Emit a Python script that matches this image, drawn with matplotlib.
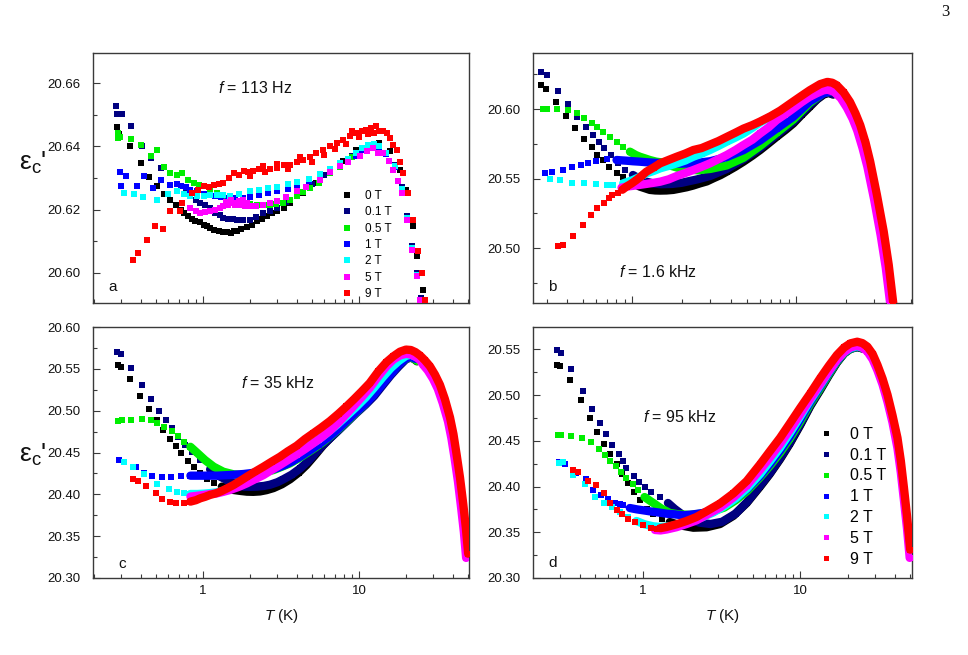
import matplotlib
matplotlib.use("Agg")
import matplotlib.pyplot as plt
import numpy as np
from matplotlib.ticker import LogLocator, MultipleLocator, FormatStrFormatter, NullFormatter, FixedLocator
from matplotlib.lines import Line2D

plt.rcParams['font.family'] = ['Liberation Sans', 'DejaVu Sans']
plt.rcParams['mathtext.fontset'] = 'custom'
plt.rcParams['mathtext.rm'] = 'Liberation Sans'
plt.rcParams['mathtext.it'] = 'Liberation Sans:italic'
plt.rcParams['mathtext.bf'] = 'Liberation Sans:bold'

# ---------------- data ----------------
fields = ['0 T', '0.1 T', '0.5 T', '1 T', '2 T', '5 T', '9 T']
colors = ['#000000', '#000080', '#00ee00', '#0000ff', '#00ffff', '#ff00ff', '#ff0000']

# panel a : f = 113 Hz   (T [K], eps_c')
a0 = [(0.28,20.6461),(0.29,20.6438),(0.34,20.6400),(0.40,20.6347),(0.45,20.6302),(0.51,20.6276),(0.56,20.6250),(0.61,20.6232),(0.67,20.6216),(0.72,20.6198),(0.76,20.6190),(0.80,20.6181),(0.85,20.6172),(0.89,20.6163),(0.95,20.6160),(1.01,20.6153),(1.06,20.6149),(1.11,20.6142),(1.18,20.6137),(1.26,20.6132),(1.34,20.6130),(1.42,20.6128),(1.50,20.6126),(1.58,20.6131),(1.65,20.6132),(1.75,20.6138),(1.91,20.6145),(2.05,20.6152),(2.21,20.6163),(2.40,20.6170),(2.56,20.6179),(2.75,20.6188),(2.97,20.6195),(3.3,20.6205),(3.61,20.6221),(4.39,20.6253),(5.33,20.6284),(6.5,20.6321),(7.9,20.6353),(9.6,20.6390),(11.7,20.6405),(13.5,20.6410),(15.7,20.6385),(18.2,20.6326),(20.0,20.6263),(22.2,20.6147),(23.7,20.6053),(25.6,20.5947)]
a1 = [(0.276,20.6528),(0.282,20.6503),(0.301,20.6503),(0.344,20.6463),(0.408,20.6400),(0.461,20.6363),(0.534,20.6332),(0.618,20.6279),(0.717,20.6276),(0.78,20.6258),(0.83,20.6242),(0.90,20.6230),(0.96,20.6221),(1.03,20.6214),(1.11,20.6205),(1.20,20.6190),(1.28,20.6182),(1.35,20.6174),(1.45,20.6170),(1.55,20.6172),(1.65,20.6168),(1.80,20.6166),(2.01,20.6168),(2.2,20.6178),(2.44,20.6189),(2.7,20.6196),(2.97,20.6205),(3.4,20.6225),(4.0,20.6250),(5.0,20.6280),(6.0,20.6310),(7.5,20.6340),(9.0,20.6370),(10.5,20.6395),(12.0,20.6405),(13.5,20.6400),(15.0,20.6380),(17.0,20.6340),(18.8,20.6270),(20.3,20.6180),(21.8,20.6085),(23.4,20.6000),(24.8,20.5920)]
a2 = [(0.283,20.6426),(0.287,20.6442),(0.295,20.6430),(0.344,20.6423),(0.398,20.6405),(0.461,20.6368),(0.508,20.6387),(0.566,20.6335),(0.618,20.6316),(0.68,20.6311),(0.73,20.6316),(0.80,20.6295),(0.87,20.6284),(0.94,20.6278),(1.01,20.6274),(1.1,20.6262),(1.23,20.6253),(1.35,20.6240),(1.49,20.6232),(1.65,20.6226),(1.82,20.6221),(2.0,20.6218),(2.21,20.6216),(2.45,20.6214),(2.69,20.6216),(2.95,20.6218),(3.27,20.6221),(3.6,20.6230),(3.98,20.6242),(4.4,20.6255),(4.84,20.6268),(5.5,20.6285),(6.5,20.6315),(7.5,20.6335),(9.0,20.6365),(10.5,20.6390),(12.0,20.6400),(13.5,20.6398),(15.0,20.6375),(17.0,20.6335),(18.8,20.6265),(20.3,20.6175),(21.8,20.6080),(23.4,20.5995),(24.8,20.5915)]
a3 = [(0.294,20.6319),(0.297,20.6276),(0.322,20.6305),(0.375,20.6274),(0.42,20.6305),(0.48,20.6268),(0.54,20.6295),(0.618,20.6279),(0.68,20.6280),(0.717,20.6274),(0.78,20.6270),(0.83,20.6263),(0.92,20.6258),(1.01,20.6251),(1.1,20.6247),(1.2,20.6242),(1.3,20.6240),(1.45,20.6238),(1.6,20.6236),(1.8,20.6238),(2.0,20.6240),(2.3,20.6245),(2.6,20.6252),(3.0,20.6258),(3.5,20.6265),(4.0,20.6275),(4.8,20.6290),(5.6,20.6305),(6.5,20.6325),(7.5,20.6345),(8.5,20.6358),(9.6,20.6370),(10.5,20.6390),(11.5,20.6400),(12.5,20.6405),(13.5,20.6398),(15.0,20.6375),(17.0,20.6335),(18.8,20.6262),(20.3,20.6172),(21.8,20.6078),(23.4,20.5993),(24.8,20.5913)]
a4 = [(0.31,20.6253),(0.36,20.6251),(0.414,20.6239),(0.508,20.6232),(0.60,20.6251),(0.68,20.6258),(0.75,20.6250),(0.83,20.6242),(0.92,20.6243),(1.01,20.6242),(1.1,20.6245),(1.23,20.6247),(1.35,20.6245),(1.49,20.6242),(1.7,20.6250),(2.01,20.6258),(2.3,20.6262),(2.6,20.6268),(3.0,20.6272),(3.5,20.6280),(4.0,20.6288),(4.8,20.6298),(5.6,20.6312),(6.5,20.6330),(7.5,20.6348),(8.5,20.6360),(9.6,20.6378),(10.5,20.6395),(11.5,20.6405),(12.5,20.6408),(13.5,20.6400),(15.0,20.6378),(17.0,20.6337),(18.8,20.6264),(20.3,20.6174),(21.8,20.6080),(23.4,20.5995),(24.8,20.5915)]
a5 = [(0.83,20.6205),(0.9,20.6195),(0.96,20.6189),(1.03,20.6192),(1.11,20.6195),(1.2,20.6200),(1.28,20.6205),(1.35,20.6210),(1.40,20.6225),(1.45,20.6215),(1.50,20.6230),(1.55,20.6220),(1.60,20.6214),(1.65,20.6221),(1.70,20.6228),(1.75,20.6215),(1.80,20.6232),(1.85,20.6212),(1.92,20.6222),(2.01,20.6210),(2.2,20.6213),(2.44,20.6216),(2.7,20.6220),(2.97,20.6226),(3.4,20.6240),(3.98,20.6258),(4.6,20.6272),(5.62,20.6295),(6.5,20.6318),(7.56,20.6337),(8.5,20.6352),(10.1,20.6368),(11.2,20.6385),(12.35,20.6395),(13.3,20.6380),(14.3,20.6379),(15.5,20.6355),(16.6,20.6326),(17.7,20.6290),(18.8,20.6253),(20.2,20.6168),(21.8,20.6073),(23.4,20.5989),(24.6,20.5916)]
a6 = [(0.357,20.6040),(0.38,20.6063),(0.438,20.6105),(0.49,20.6147),(0.556,20.6140),(0.613,20.6197),(0.711,20.6197),(0.73,20.6221),(0.85,20.6253),(0.93,20.6262),(1.01,20.6274),(1.09,20.6270),(1.17,20.6279),(1.26,20.6282),(1.35,20.6284),(1.46,20.6300),(1.57,20.6316),(1.7,20.6310),(1.82,20.6321),(1.95,20.6318),(2.0,20.6305),(2.1,20.6321),(2.27,20.6328),(2.44,20.6337),(2.5,20.6320),(2.7,20.6330),(2.97,20.6332),(3.0,20.6345),(3.3,20.6340),(3.5,20.6328),(3.61,20.6342),(4.0,20.6350),(4.2,20.6365),(4.39,20.6358),(4.85,20.6365),(5.0,20.6352),(5.33,20.6379),(5.9,20.6388),(6.0,20.6372),(6.5,20.6400),(7.0,20.6392),(7.2,20.6410),(7.9,20.6421),(8.2,20.6408),(8.7,20.6432),(9.0,20.6447),(9.6,20.6442),(10.0,20.6430),(10.4,20.6448),(11.1,20.6453),(11.5,20.6440),(12.0,20.6458),(12.5,20.6442),(12.9,20.6463),(13.5,20.6450),(14.2,20.6447),(15.1,20.6442),(15.7,20.6426),(16.5,20.6405),(17.5,20.6389),(18.3,20.6350),(19.2,20.6316),(20.7,20.6253),(22.3,20.6168),(24.0,20.6068),(25.3,20.6000),(26.5,20.5916)]

# panel b : f = 1.6 kHz
b0 = [(0.279,20.6172),(0.297,20.6148),(0.341,20.6053),(0.397,20.5950),(0.450,20.5861),(0.509,20.5785),(0.565,20.5725),(0.611,20.5670),(0.665,20.5634),(0.720,20.5586),(0.802,20.5538),(0.881,20.5510),(0.968,20.5478),(1.04,20.5460),(1.11,20.5443),(1.20,20.5430),(1.28,20.5419),(1.38,20.5415),(1.48,20.5414),(1.62,20.5415),(1.78,20.5419),(1.95,20.5428),(2.15,20.5438),(2.35,20.5450),(2.59,20.5466),(2.85,20.5480),(3.12,20.5502),(3.45,20.5525),(3.77,20.5550),(4.25,20.5585),(4.77,20.5622),(5.4,20.5665),(6.03,20.5706),(6.8,20.5755),(7.6,20.5801),(8.6,20.5850),(9.6,20.5897),(10.8,20.5960),(12.1,20.6017),(13.4,20.6070),(14.7,20.6105),(15.8,20.6117),(16.8,20.6105)]
b1 = [(0.279,20.6268),(0.302,20.6244),(0.350,20.6132),(0.406,20.6036),(0.463,20.5945),(0.521,20.5868),(0.578,20.5813),(0.629,20.5766),(0.675,20.5718),(0.737,20.5670),(0.821,20.5610),(0.902,20.5562),(1.01,20.5526),(1.10,20.5500),(1.20,20.5480),(1.35,20.5465),(1.50,20.5460),(1.75,20.5462),(2.0,20.5470),(2.5,20.5495),(3.0,20.5520),(3.77,20.5570),(4.77,20.5640),(6.03,20.5720),(7.6,20.5815),(9.6,20.5910),(12.1,20.6030),(14.7,20.6112),(15.8,20.6118),(16.8,20.6108)]
b2 = [(0.286,20.5998),(0.302,20.5998),(0.348,20.6002),(0.406,20.5993),(0.461,20.5974),(0.509,20.5933),(0.565,20.5902),(0.611,20.5873),(0.665,20.5837),(0.730,20.5801),(0.802,20.5766),(0.881,20.5730),(0.968,20.5694),(1.05,20.5670),(1.11,20.5658),(1.20,20.5645),(1.28,20.5634),(1.40,20.5622),(1.55,20.5615),(1.75,20.5590),(2.0,20.5570),(2.5,20.5560),(3.0,20.5570),(3.77,20.5595),(4.77,20.5650),(6.03,20.5735),(7.6,20.5830),(9.6,20.5925),(12.1,20.6045),(14.7,20.6118),(16.0,20.6125)]
b3 = [(0.295,20.5543),(0.326,20.5550),(0.379,20.5562),(0.430,20.5581),(0.484,20.5598),(0.539,20.5615),(0.605,20.5629),(0.697,20.5639),(0.802,20.5634),(0.923,20.5629),(1.01,20.5625),(1.11,20.5622),(1.22,20.5618),(1.34,20.5615),(1.48,20.5612),(1.62,20.5610),(1.8,20.5608),(2.0,20.5608),(2.36,20.5610),(2.98,20.5625),(3.77,20.5655),(4.77,20.5705),(6.03,20.5775),(7.6,20.5860),(9.6,20.5945),(12.1,20.6055),(14.7,20.6115),(16.0,20.6125)]
b4 = [(0.314,20.5495),(0.362,20.5490),(0.426,20.5471),(0.507,20.5471),(0.605,20.5462),(0.697,20.5455),(0.765,20.5455),(0.881,20.5466),(1.01,20.5490),(1.10,20.5510),(1.22,20.5538),(1.35,20.5555),(1.48,20.5574),(1.65,20.5590),(1.87,20.5610),(2.1,20.5630),(2.36,20.5658),(2.65,20.5680),(2.98,20.5706),(3.35,20.5735),(3.77,20.5766),(4.25,20.5795),(4.77,20.5825),(5.4,20.5865),(6.03,20.5905),(7.6,20.5970),(9.6,20.6035),(12.1,20.6110),(14.7,20.6155),(16.0,20.6160),(17.0,20.6145)]
b5 = [(0.86,20.5435),(0.93,20.5443),(1.01,20.5448),(1.11,20.5455),(1.22,20.5462),(1.35,20.5470),(1.48,20.5478),(1.67,20.5495),(1.87,20.5519),(2.1,20.5540),(2.36,20.5562),(2.65,20.5585),(2.98,20.5610),(3.35,20.5640),(3.77,20.5670),(4.25,20.5705),(4.77,20.5742),(5.4,20.5780),(6.03,20.5825),(6.8,20.5870),(7.6,20.5921),(8.5,20.5960),(9.6,20.6005),(10.8,20.6050),(12.1,20.6089),(13.4,20.6115),(14.7,20.6136),(15.6,20.6140),(17.0,20.6125),(18.7,20.6080),(20.4,20.6010),(22.1,20.5930),(23.6,20.5845),(25.4,20.5720),(27.2,20.5585),(29.9,20.5350),(32.8,20.5090),(35.2,20.4860),(37.4,20.4610),(38.4,20.4500)]
b6 = [(0.353,20.5012),(0.379,20.5024),(0.436,20.5084),(0.498,20.5163),(0.557,20.5239),(0.611,20.5287),(0.671,20.5328),(0.724,20.5359),(0.748,20.5383),(0.821,20.5395),(0.87,20.5420),(0.923,20.5443),(0.99,20.5465),(1.06,20.5490),(1.14,20.5520),(1.22,20.5550),(1.35,20.5580),(1.48,20.5610),(1.67,20.5635),(1.87,20.5658),(2.1,20.5680),(2.36,20.5706),(2.65,20.5720),(2.98,20.5745),(3.35,20.5770),(3.77,20.5800),(4.25,20.5830),(4.77,20.5860),(5.4,20.5885),(6.0,20.5910),(7.0,20.5950),(8.0,20.5990),(9.2,20.6040),(10.6,20.6090),(12.1,20.6136),(14.0,20.6180),(15.5,20.6196),(16.6,20.6190),(17.7,20.6172),(19.5,20.6120),(21.3,20.6052),(23.0,20.5970),(24.6,20.5885),(26.5,20.5760),(28.3,20.5622),(31.1,20.5383),(34.2,20.5120),(36.7,20.4880),(39.0,20.4617),(40.0,20.4500)]

# panel c : f = 35 kHz
c0 = [(0.283,20.554),(0.296,20.552),(0.339,20.538),(0.394,20.518),(0.45,20.5017),(0.508,20.4886),(0.556,20.4767),(0.613,20.4667),(0.666,20.4576),(0.717,20.4497),(0.798,20.4397),(0.872,20.433),(0.961,20.425),(1.06,20.4183),(1.17,20.4131),(1.32,20.4092),(1.45,20.407),(1.57,20.4052),(1.75,20.404),(1.91,20.4032),(2.1,20.403),(2.32,20.4035),(2.55,20.405),(2.83,20.4075),(3.2,20.412),(3.61,20.418),(4.1,20.426),(4.6,20.435),(5.2,20.4465),(5.88,20.4585),(6.6,20.468),(7.52,20.4785),(8.5,20.4885),(9.6,20.4985),(10.8,20.5085),(12.3,20.520),(14.0,20.533),(15.7,20.544),(17.5,20.553),(19.1,20.5595),(20.5,20.5635),(22.0,20.5635),(23.5,20.559)]
c1 = [(0.279,20.570),(0.300,20.568),(0.347,20.551),(0.408,20.5303),(0.466,20.5144),(0.521,20.4997),(0.575,20.4886),(0.628,20.4787),(0.689,20.4687),(0.771,20.4588),(0.850,20.4509),(0.961,20.4409),(1.11,20.4298),(1.29,20.4211),(1.49,20.4151),(1.65,20.412),(1.82,20.4092),(2.0,20.409),(2.21,20.4092),(2.45,20.41),(2.69,20.4115),(3.0,20.4145),(3.27,20.418),(3.7,20.4235),(4.2,20.431),(4.8,20.441),(5.5,20.4535),(6.3,20.4645),(7.2,20.4745),(8.3,20.4855),(9.6,20.497),(11.0,20.507),(12.5,20.5175),(14.2,20.5305),(16.0,20.5425),(18.0,20.553),(20.0,20.5615),(21.5,20.5635),(23.0,20.561)]
c2 = [(0.283,20.4878),(0.304,20.4886),(0.344,20.4894),(0.404,20.4906),(0.461,20.4894),(0.508,20.4858),(0.566,20.4806),(0.634,20.4759),(0.689,20.4695),(0.752,20.4628),(0.83,20.4568),(0.915,20.4497),(1.03,20.4409),(1.17,20.433),(1.35,20.427),(1.57,20.4239),(1.75,20.4232),(1.91,20.4231),(2.1,20.424),(2.32,20.4251),(2.55,20.427),(2.83,20.429),(3.2,20.433),(3.61,20.437),(4.1,20.443),(4.6,20.4489),(5.2,20.4555),(5.88,20.4625),(6.6,20.470),(7.52,20.479),(8.5,20.4885),(9.6,20.498),(10.8,20.507),(12.3,20.519),(14.0,20.532),(15.7,20.543),(17.5,20.553),(19.1,20.5595),(20.5,20.5635),(22.0,20.5635),(23.5,20.5595)]
c3 = [(0.29,20.4409),(0.311,20.4389),(0.37,20.433),(0.418,20.425),(0.472,20.4223),(0.542,20.4211),(0.619,20.4211),(0.717,20.4223),(0.83,20.4223),(0.92,20.4223),(1.01,20.4223),(1.12,20.4223),(1.23,20.4223),(1.35,20.4227),(1.49,20.4231),(1.65,20.4237),(1.82,20.4243),(2.0,20.4252),(2.21,20.4263),(2.45,20.4275),(2.69,20.429),(3.0,20.4315),(3.3,20.4345),(3.7,20.439),(4.2,20.445),(4.8,20.452),(5.5,20.4595),(6.3,20.4675),(7.2,20.4765),(8.3,20.4875),(9.6,20.4985),(11.0,20.5085),(12.5,20.5195),(14.2,20.5325),(16.0,20.544),(18.0,20.555),(20.0,20.5625),(21.5,20.5645),(23.0,20.562)]
c4 = [(0.311,20.4389),(0.356,20.433),(0.418,20.4239),(0.508,20.4123),(0.604,20.406),(0.676,20.4032),(0.752,20.4012),(0.83,20.4004),(0.92,20.4004),(1.01,20.4008),(1.11,20.4015),(1.23,20.4025),(1.35,20.4040),(1.49,20.4072),(1.65,20.411),(1.82,20.4155),(2.0,20.42),(2.21,20.4245),(2.45,20.429),(2.69,20.4335),(3.0,20.4385),(3.3,20.443),(3.7,20.448),(4.2,20.452),(4.8,20.4585),(5.5,20.4655),(6.3,20.474),(7.2,20.483),(8.3,20.4935),(9.6,20.5045),(11.0,20.5155),(12.5,20.5275),(14.2,20.5400),(16.0,20.551),(18.0,20.5595),(20.0,20.5655),(21.5,20.567),(23.0,20.5645)]
c5 = [(0.83,20.3973),(0.92,20.3983),(1.01,20.3993),(1.11,20.4003),(1.23,20.4012),(1.35,20.403),(1.49,20.4052),(1.7,20.409),(1.91,20.4131),(2.15,20.418),(2.44,20.423),(2.75,20.429),(3.11,20.435),(3.5,20.441),(3.98,20.4475),(4.5,20.454),(5.09,20.461),(5.7,20.4675),(6.5,20.476),(7.4,20.486),(8.3,20.496),(9.2,20.505),(10.4,20.516),(11.7,20.527),(13.3,20.541),(15.0,20.553),(16.6,20.561),(18.3,20.566),(20.0,20.568),(21.5,20.567),(23.0,20.5645),(24.6,20.5605),(25.7,20.555),(27.6,20.548),(29.8,20.538),(32.0,20.526),(34.4,20.509),(37.2,20.487),(39.1,20.467),(41.0,20.443),(43.1,20.415),(45.2,20.383),(47.0,20.355),(48.6,20.324)]
c6 = [(0.355,20.4179),(0.38,20.4163),(0.428,20.4104),(0.496,20.4012),(0.548,20.3941),(0.61,20.3913),(0.666,20.3901),(0.752,20.3901),(0.83,20.3913),(0.9,20.393),(0.961,20.3953),(1.03,20.397),(1.11,20.3993),(1.2,20.401),(1.29,20.4032),(1.42,20.407),(1.57,20.4112),(1.73,20.416),(1.91,20.4211),(2.15,20.427),(2.44,20.433),(2.75,20.439),(3.11,20.4449),(3.5,20.4515),(3.98,20.458),(4.5,20.466),(5.09,20.473),(5.7,20.4795),(6.5,20.4875),(7.4,20.4965),(8.3,20.505),(9.2,20.513),(10.4,20.523),(11.7,20.533),(13.3,20.547),(15.0,20.558),(16.6,20.565),(18.3,20.5705),(20.0,20.573),(21.5,20.5725),(23.0,20.570),(24.6,20.566),(26.5,20.560),(28.5,20.553),(30.7,20.543),(33.0,20.531),(35.5,20.514),(38.3,20.492),(40.3,20.472),(42.2,20.448),(44.4,20.42),(46.6,20.388),(48.4,20.36),(50.1,20.329)]

# panel d : f = 95 kHz
d0 = [(0.287,20.5332),(0.298,20.5314),(0.345,20.5168),(0.405,20.4942),(0.463,20.4753),(0.515,20.4596),(0.568,20.4461),(0.626,20.4352),(0.684,20.4243),(0.746,20.4141),(0.811,20.4039),(0.881,20.394),(0.962,20.3849),(1.06,20.3758),(1.17,20.3703),(1.32,20.3649),(1.49,20.3612),(1.73,20.3576),(2.1,20.355),(2.55,20.3555),(3.1,20.359),(3.77,20.368),(4.58,20.382),(5.57,20.400),(6.4,20.4135),(7.46,20.430),(8.6,20.447),(10.0,20.467),(11.6,20.488),(13.4,20.5055),(15.2,20.5215),(17.1,20.5355),(19.0,20.5455),(20.8,20.5505),(23.0,20.5525),(24.8,20.551)]
d1 = [(0.287,20.5488),(0.305,20.546),(0.354,20.5282),(0.42,20.5044),(0.479,20.4851),(0.535,20.4698),(0.59,20.457),(0.644,20.4458),(0.711,20.4359),(0.754,20.4275),(0.791,20.4206),(0.881,20.4115),(0.952,20.405),(1.03,20.3995),(1.14,20.394),(1.29,20.3885),(1.45,20.382),(1.6,20.3755),(1.8,20.369),(2.0,20.364),(2.3,20.3605),(2.7,20.359),(3.2,20.3615),(3.9,20.3705),(4.6,20.3830),(5.56,20.4010),(6.45,20.4150),(7.46,20.4310),(8.6,20.4480),(10.0,20.4680),(11.6,20.4890),(13.4,20.5065),(15.2,20.5225),(17.1,20.5360),(19.0,20.5458),(20.8,20.5505),(23.0,20.5525),(24.8,20.551)]
d2 = [(0.291,20.4567),(0.305,20.456),(0.354,20.4549),(0.415,20.453),(0.47,20.4487),(0.527,20.4414),(0.582,20.4341),(0.626,20.4279),(0.677,20.4221),(0.735,20.4159),(0.791,20.4097),(0.864,20.4031),(0.938,20.3958),(1.03,20.3885),(1.17,20.382),(1.32,20.3758),(1.49,20.3711),(1.69,20.3696),(2.0,20.369),(2.4,20.3705),(2.8,20.373),(3.3,20.377),(3.9,20.385),(4.6,20.395),(5.56,20.410),(6.45,20.423),(7.46,20.437),(8.6,20.4525),(10.0,20.471),(11.6,20.4905),(13.4,20.5075),(15.2,20.523),(17.1,20.5365),(19.0,20.5458),(20.8,20.5505),(23.0,20.553),(24.8,20.5515)]
d3 = [(0.294,20.4268),(0.32,20.4243),(0.38,20.4148),(0.437,20.4086),(0.486,20.3958),(0.549,20.3904),(0.605,20.3867),(0.667,20.3824),(0.718,20.3805),(0.754,20.3794),(0.831,20.3765),(0.916,20.3751),(1.01,20.374),(1.11,20.3729),(1.29,20.3714),(1.42,20.3703),(1.6,20.3696),(1.81,20.3685),(2.1,20.3696),(2.4,20.371),(2.8,20.374),(3.3,20.379),(3.9,20.387),(4.6,20.397),(5.56,20.4115),(6.45,20.425),(7.46,20.4395),(8.6,20.455),(10.0,20.4735),(11.6,20.4925),(13.4,20.5095),(15.2,20.5245),(17.1,20.5375),(19.0,20.5465),(20.8,20.551),(23.0,20.5535),(24.8,20.552)]
d4 = [(0.294,20.4257),(0.312,20.4268),(0.363,20.4122),(0.43,20.4031),(0.497,20.3885),(0.568,20.382),(0.636,20.3776),(0.718,20.3722),(0.811,20.3667),(0.916,20.3623),(1.03,20.3587),(1.17,20.3565),(1.29,20.3558),(1.5,20.3565),(1.75,20.359),(2.0,20.362),(2.4,20.3665),(2.8,20.3715),(3.3,20.3785),(3.9,20.387),(4.6,20.398),(5.56,20.4135),(6.45,20.428),(7.46,20.4425),(8.6,20.4585),(10.0,20.4765),(11.6,20.4945),(13.4,20.511),(15.2,20.5255),(17.1,20.5385),(19.0,20.547),(20.8,20.5515),(23.0,20.5535),(24.8,20.552)]
d5 = [(1.2,20.3525),(1.3,20.352),(1.42,20.353),(1.64,20.3555),(1.9,20.359),(2.2,20.363),(2.55,20.369),(3.1,20.377),(3.77,20.388),(4.58,20.401),(5.56,20.418),(6.45,20.432),(7.46,20.4465),(8.6,20.462),(10.0,20.479),(11.6,20.496),(13.4,20.512),(15.2,20.526),(17.1,20.5385),(19.0,20.547),(20.8,20.552),(23.0,20.554),(24.8,20.552),(26.7,20.5475),(28.8,20.539),(30.9,20.527),(33.3,20.5115),(35.8,20.4925),(38.5,20.47),(41.4,20.442),(43.5,20.415),(45.5,20.385),(47.6,20.354),(49.5,20.322)]
d6 = [(0.363,20.4177),(0.39,20.4159),(0.451,20.4061),(0.51,20.4013),(0.568,20.3929),(0.626,20.382),(0.684,20.3747),(0.746,20.3696),(0.811,20.3649),(0.894,20.3612),(1.01,20.3576),(1.14,20.355),(1.23,20.3539),(1.3,20.3545),(1.42,20.3558),(1.64,20.3587),(1.9,20.3623),(2.2,20.3667),(2.55,20.373),(3.1,20.3815),(3.77,20.3925),(4.58,20.406),(5.56,20.4242),(6.45,20.439),(7.46,20.4533),(8.6,20.469),(10.0,20.4859),(11.6,20.502),(13.4,20.5185),(15.2,20.532),(17.1,20.5438),(19.0,20.552),(20.8,20.5565),(23.0,20.5583),(24.8,20.5568),(26.7,20.5529),(28.8,20.545),(30.9,20.533),(33.3,20.518),(35.8,20.5003),(38.5,20.478),(41.4,20.4533),(43.5,20.428),(45.5,20.3989),(47.6,20.368),(49.9,20.331)]

# temperatures above which the measured points are dense (drawn as a continuous band)
dense_b = [1.0, 0.95, 0.95, 0.75, 0.8, 0.0, 0.83]
dense_c = [1.3, 1.0, 0.8, 0.78, 0.8, 0.0, 0.8]
dense_d = [1.4, 1.35, 1.0, 0.8, 0.9, 0.0, 1.28]

# ---------------- figure ----------------
W, H = 968, 655
fig = plt.figure(figsize=(W / 100, H / 100), dpi=100)

def rect(l, t, r, b):
    return [l / W, 1 - b / H, (r - l) / W, (b - t) / H]

axa = fig.add_axes(rect(93, 53, 469, 303))
axb = fig.add_axes(rect(533, 53, 912, 303))
axc = fig.add_axes(rect(93, 327, 469, 578))
axd = fig.add_axes(rect(533, 327, 912, 578))

SPINE = '#3a3a3a'

def draw(ax, series, dense, lw, ms):
    for i, s in enumerate(series):
        T = np.array([p[0] for p in s])
        E = np.array([p[1] for p in s])
        if dense is not None:
            m = T >= dense[i]
            if m.sum() > 1:
                ax.plot(T[m], E[m], '-', color=colors[i], lw=lw,
                        solid_joinstyle='round', solid_capstyle='round', zorder=2 + i)
        ax.plot(T, E, 's', color=colors[i], ms=ms, mew=0, zorder=2 + i)

draw(axa, [a0, a1, a2, a3, a4, a5, a6], None, 0, 4.3)
draw(axb, [b0, b1, b2, b3, b4, b5, b6], dense_b, 6.0, 4.0)
draw(axc, [c0, c1, c2, c3, c4, c5, c6], dense_c, 6.0, 4.0)
draw(axd, [d0, d1, d2, d3, d4, d5, d6], dense_d, 6.0, 4.0)

def style(ax, xlim, ylim, major, minor, xlabels):
    ax.set_xscale('log')
    ax.set_xlim(*xlim)
    ax.set_ylim(*ylim)
    ax.xaxis.set_major_locator(FixedLocator([1, 10]))
    ax.xaxis.set_minor_locator(LogLocator(base=10, subs=np.arange(2, 10), numticks=20))
    ax.xaxis.set_minor_formatter(NullFormatter())
    if xlabels:
        ax.xaxis.set_major_formatter(FormatStrFormatter('%g'))
    else:
        ax.xaxis.set_major_formatter(NullFormatter())
    ax.yaxis.set_major_locator(MultipleLocator(major))
    ax.yaxis.set_minor_locator(MultipleLocator(minor))
    ax.yaxis.set_major_formatter(FormatStrFormatter('%.2f'))
    ax.tick_params(which='both', direction='in', top=False, right=False, colors=SPINE,
                   labelcolor='#111111', labelsize=9.5, width=0.8)
    ax.tick_params(which='major', length=5)
    ax.tick_params(which='minor', length=3)
    ax.tick_params(axis='y', pad=9)
    ax.tick_params(axis='x', pad=5)
    for sp in ax.spines.values():
        sp.set_color(SPINE)
        sp.set_linewidth(1.0)

style(axa, (0.197, 50.7), (20.5905, 20.6695), 0.02, 0.01, False)
style(axb, (0.248, 50.9), (20.4605, 20.6404), 0.05, 0.025, False)
style(axc, (0.197, 50.7), (20.30, 20.60), 0.05, 0.025, True)
style(axd, (0.202, 51.2), (20.30, 20.5744), 0.05, 0.025, True)

for ax in (axc, axd):
    ax.set_xlabel(r'$T$ (K)', fontsize=11, labelpad=7, color='#111111')

def ftxt(x, y, s, **kw):
    fig.text(x / W, 1 - y / H, s, ha='center', va='center', color='#111111', **kw)

ftxt(255, 88, r'$f$ = 113 Hz', fontsize=11.5)
ftxt(658, 272, r'$f$ = 1.6 kHz', fontsize=11.5)
ftxt(278, 383, r'$f$ = 35 kHz', fontsize=11.5)
ftxt(680, 417, r'$f$ = 95 kHz', fontsize=11.5)

ftxt(113, 287, 'a', fontsize=11)
ftxt(552, 287, 'b', fontsize=11)
ftxt(122, 564, 'c', fontsize=11)
ftxt(553, 563, 'd', fontsize=11)

ftxt(33, 163, r"$\mathrm{\varepsilon_c}$'", fontsize=19)
ftxt(33, 455, r"$\mathrm{\varepsilon_c}$'", fontsize=19)

fig.text(945 / W, 1 - 12 / H, '3', ha='center', va='center', fontsize=12,
         family='Liberation Serif', color='#111111')

# legends
def legend(ax, left, top, fs, ms, hl, htp, ls):
    handles = [Line2D([], [], ls='none', marker='s', ms=ms, mew=0, color=c) for c in colors]
    ax.legend(handles, fields, loc='upper left', bbox_to_anchor=(left / W, 1 - top / H),
              bbox_transform=fig.transFigure, frameon=False, fontsize=fs,
              handlelength=hl, handletextpad=htp, labelspacing=ls, borderpad=0,
              borderaxespad=0)

legend(axa, 341, 190, 8.5, 3.8, 1.0, 1.05, 0.37)
legend(axd, 820, 427, 11.5, 3.6, 0.8, 1.1, 0.36)

fig.savefig('out.png', dpi=100)
